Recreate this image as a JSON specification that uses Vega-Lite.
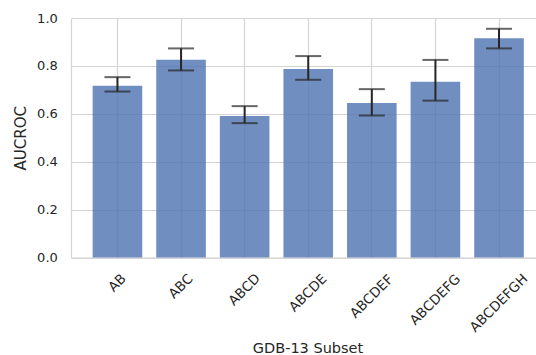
{
  "$schema": "https://vega.github.io/schema/vega-lite/v6.json",
  "width": 465,
  "height": 239.5,
  "autosize": {"type": "none"},
  "padding": {"left": 71, "top": 18, "right": 0, "bottom": 97.5},
  "background": "white",
  "config": {
    "view": {"stroke": null},
    "font": "DejaVu Sans",
    "axis": {
      "labelFont": "DejaVu Sans",
      "titleFont": "DejaVu Sans",
      "labelColor": "#262626",
      "titleColor": "#262626",
      "titleFontWeight": "normal",
      "gridColor": "#d4d4d4",
      "gridWidth": 1.2,
      "domainColor": "#d4d4d4",
      "domainWidth": 1.2,
      "ticks": false,
      "tickSize": 0
    }
  },
  "data": {
    "values": [
      {"subset": "AB", "auc": 0.717, "lo": 0.693, "hi": 0.753},
      {"subset": "ABC", "auc": 0.826, "lo": 0.781, "hi": 0.873},
      {"subset": "ABCD", "auc": 0.591, "lo": 0.561, "hi": 0.632},
      {"subset": "ABCDE", "auc": 0.787, "lo": 0.742, "hi": 0.841},
      {"subset": "ABCDEF", "auc": 0.645, "lo": 0.593, "hi": 0.703},
      {"subset": "ABCDEFG", "auc": 0.734, "lo": 0.655, "hi": 0.825},
      {"subset": "ABCDEFGH", "auc": 0.915, "lo": 0.873, "hi": 0.955}
    ]
  },
  "encoding": {
    "x": {
      "field": "subset",
      "type": "nominal",
      "sort": null,
      "scale": {"paddingInner": 0.22, "paddingOuter": 0.266, "align": 0.64},
      "axis": {
        "title": "GDB-13 Subset",
        "titleFontSize": 14.5,
        "titleX": 236.5,
        "titleY": 94.6,
        "titleAlign": "center",
        "titleAnchor": null,
        "titleBaseline": "alphabetic",
        "labelAngle": -45,
        "labelAlign": "center",
        "labelBaseline": "middle",
        "labelFontSize": 13.5,
        "labelPadding": {"expr": "18.5 + length(datum.label) * 3.35"},
        "grid": true,
        "tickBand": "center",
        "bandPosition": 0.5
      }
    }
  },
  "layer": [
    {
      "mark": {"type": "bar", "color": "#4C72B0", "opacity": 0.8},
      "encoding": {
        "y": {
          "field": "auc",
          "type": "quantitative",
          "scale": {"domain": [0, 1], "nice": false, "zero": true},
          "axis": {
            "title": "AUCROC",
            "titleFontSize": 15,
            "titleAngle": 270,
            "titleX": -46,
            "titleY": 119.7,
            "titleAlign": "center",
            "titleAnchor": null,
            "titleBaseline": "alphabetic",
            "values": [0, 0.2, 0.4, 0.6, 0.8, 1.0],
            "format": ".1f",
            "labelFontSize": 13,
            "labelPadding": 13.7,
            "labelBaseline": "middle",
            "grid": true
          }
        }
      }
    },
    {
      "mark": {"type": "rule", "color": "#262626", "strokeWidth": 2},
      "encoding": {
        "y": {"field": "lo", "type": "quantitative"},
        "y2": {"field": "hi"}
      }
    },
    {
      "mark": {"type": "tick", "color": "#262626", "thickness": 2, "size": 26, "orient": "horizontal"},
      "encoding": {"y": {"field": "lo", "type": "quantitative"}}
    },
    {
      "mark": {"type": "tick", "color": "#262626", "thickness": 2, "size": 26, "orient": "horizontal"},
      "encoding": {"y": {"field": "hi", "type": "quantitative"}}
    }
  ]
}
